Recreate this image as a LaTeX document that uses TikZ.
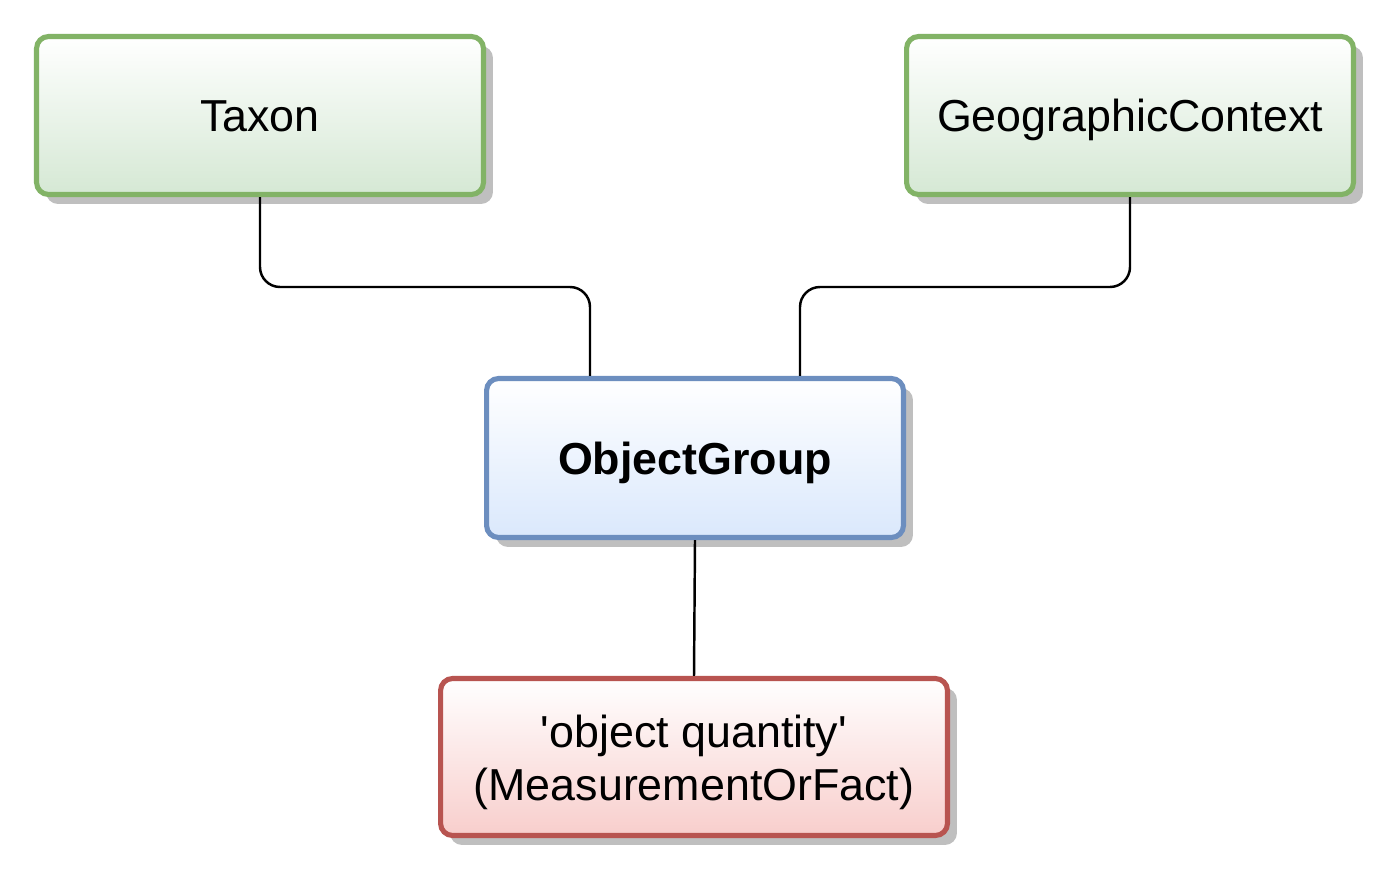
\documentclass[tikz,border=0pt]{standalone}
\usepackage{fontspec}
\setmainfont{Liberation Sans}
\usetikzlibrary{shadows}
\definecolor{grfill}{HTML}{D5E8D4}
\definecolor{grline}{HTML}{82B366}
\definecolor{blfill}{HTML}{DAE8FC}
\definecolor{blline}{HTML}{6C8EBF}
\definecolor{rdfill}{HTML}{F8CECC}
\definecolor{rdline}{HTML}{B85450}
\begin{document}
\begin{tikzpicture}[x=0.02cm, y=-0.02cm,
		box_style/.style={rectangle, rounded corners=0.24cm, line width=2.9pt, inner sep=0pt,
			align=center, font=\fontsize{25.5}{30}\selectfont, top color=white,
			text height=0.8cm, text depth=0.14cm,
			drop shadow={shadow xshift=0.19cm, shadow yshift=-0.19cm, fill=black!25, opacity=1}},
		green_style/.style={box_style, draw=grline, bottom color=grfill, minimum width=8.94cm, minimum height=3.16cm},
		blue_style/.style={box_style, draw=blline, bottom color=blfill, minimum width=8.34cm, minimum height=3.18cm},
		red_style/.style={box_style, draw=rdline, bottom color=rdfill, minimum width=10.14cm, minimum height=3.14cm,
			text height=1.86cm},
		edge_style/.style={draw=black, line width=1.4pt, rounded corners=0.4cm}]
		\useasboundingbox (0,0) rectangle (1392,879);
		\node[green_style] (taxon) at (260,115.5) {Taxon};
		\node[green_style] (geo) at (1130,115.5) {GeographicContext};
		\node[blue_style] (objgrp) at (695,458) {\textbf{ObjectGroup}};
		\node[red_style] (mof) at (694,757) {\textquotesingle object quantity\textquotesingle\\(MeasurementOrFact)};
		\coordinate (jl) at (590,287);
		\coordinate (jr) at (800,287);
		\draw[edge_style] (taxon.south) |- (jl) -- (jl |- objgrp.north);
		\draw[edge_style] (geo.south) |- (jr) -- (jr |- objgrp.north);
		\draw[edge_style] (objgrp.south) -- (mof.north);
		\end{tikzpicture}
\end{document}
